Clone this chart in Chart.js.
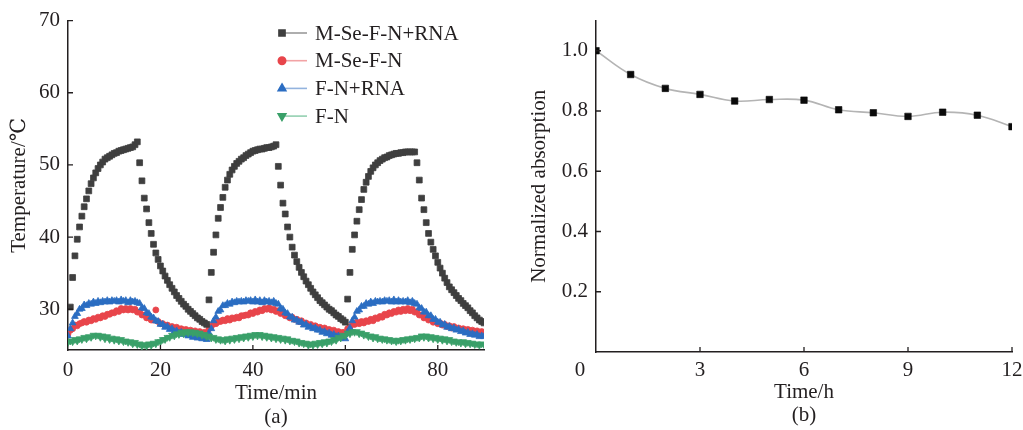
<!DOCTYPE html>
<html>
<head>
<meta charset="utf-8">
<title>Photothermal heating cycles and absorption stability</title>
<script src="https://cdn.jsdelivr.net/npm/chart.js@4.4.1/dist/chart.umd.min.js"></script>
<style>
  html, body { margin: 0; padding: 0; background: #ffffff; }
  #wrap { position: relative; width: 1023px; height: 430px; overflow: hidden; }
  #panelA { position: absolute; left: 0; top: 0; }
  #panelB { position: absolute; left: 511px; top: 0; }
</style>
</head>
<body>
<div id="wrap">
  <canvas id="panelA" width="511" height="430"></canvas>
  <canvas id="panelB" width="512" height="430"></canvas>
</div>
<script>
// ---------- (a) temperature records, sampled every 0.5 min from 0 to 90 min ----------
const SAMPLE_STEP_MIN = 0.5;

const seriesNames = ['M-Se-F-N+RNA', 'M-Se-F-N', 'F-N+RNA', 'F-N'];

// M-Se-F-N+RNA (°C)
const tempMSeFNRNA = [
  null, 30.3, 34.4, 37.4, 39.7, 41.4, 42.9, 44.2, 45.3, 46.4,
  47.4, 48.2, 48.9, 49.5, 50.0, 50.4, 50.8, 51.0, 51.2, 51.4,
  51.6, 51.7, 51.9, 52.0, 52.1, 52.2, 52.3, 52.4, 52.5, 52.8,
  53.2, 50.3, 47.8, 45.4, 43.9, 42.0, 40.5, 39.0, 37.8, 36.9,
  36.0, 35.3, 34.6, 34.0, 33.4, 32.9, 32.4, 31.9, 31.5, 31.1,
  30.7, 30.4, 30.0, 29.7, 29.4, 29.1, 28.8, 28.6, 28.3, 28.1,
  27.9, 31.3, 35.1, 37.9, 40.3, 42.6, 44.1, 45.5, 46.9, 47.9,
  48.7, 49.3, 49.8, 50.2, 50.5, 50.8, 51.0, 51.3, 51.5, 51.7,
  51.9, 52.0, 52.1, 52.2, 52.2, 52.3, 52.4, 52.4, 52.5, 52.6,
  52.8, 49.8, 47.2, 44.7, 43.2, 41.4, 40.0, 38.6, 37.5, 36.6,
  35.8, 35.1, 34.5, 33.9, 33.4, 32.9, 32.4, 32.0, 31.6, 31.2,
  30.9, 30.6, 30.3, 30.0, 29.8, 29.5, 29.2, 29.0, 28.7, 28.5,
  28.2, 31.4, 35.1, 38.3, 40.3, 42.2, 43.8, 45.2, 46.6, 47.6,
  48.4, 49.1, 49.6, 50.0, 50.3, 50.6, 50.8, 51.0, 51.1, 51.3,
  51.4, 51.5, 51.6, 51.6, 51.7, 51.7, 51.8, 51.8, 51.8, 51.8,
  51.8, 50.3, 47.9, 45.4, 43.8, 42.0, 40.5, 39.3, 38.3, 37.4,
  36.5, 35.7, 35.0, 34.3, 33.7, 33.1, 32.7, 32.3, 31.9, 31.5,
  31.2, 30.8, 30.5, 30.2, 29.8, 29.5, 29.1, 28.8, 28.5, 28.3,
  28.1
];

// M-Se-F-N (°C)
const tempMSeFN = [
  26.6, 27.1, 27.3, 27.8, 27.7, 28.0, 28.1, 28.3, 28.2, 28.5,
  28.4, 28.7, 28.6, 28.9, 28.8, 29.1, 29.0, 29.3, 29.3, 29.5,
  29.5, 29.8, 29.7, 30.1, 29.9, 30.1, 29.9, 30.1, 29.9, 30.0,
  29.6, 29.6, 29.2, 29.2, 28.8, 28.8, 28.5, 28.5, 29.9, 28.3,
  28.0, 28.0, 27.7, 27.8, 27.5, 27.6, 27.3, 27.5, 27.2, 27.3,
  27.0, 27.2, 26.9, 27.1, 26.8, 27.0, 26.7, 26.9, 26.6, 26.8,
  26.6, 27.3, 27.6, 28.0, 28.0, 28.3, 28.3, 28.5, 28.4, 28.7,
  28.5, 28.8, 28.7, 28.9, 28.8, 29.1, 29.1, 29.2, 29.2, 29.5,
  29.4, 29.7, 29.6, 29.9, 29.8, 30.1, 30.0, 30.2, 29.9, 30.0,
  29.7, 29.8, 29.4, 29.5, 29.1, 29.1, 28.8, 28.9, 28.6, 28.6,
  28.3, 28.4, 28.0, 28.1, 27.8, 27.9, 27.6, 27.7, 27.4, 27.5,
  27.2, 27.4, 27.1, 27.2, 26.9, 27.1, 26.8, 26.9, 26.7, 26.8,
  26.6, 27.3, 27.5, 28.0, 27.9, 28.2, 28.0, 28.3, 28.1, 28.4,
  28.3, 28.6, 28.4, 28.8, 28.7, 29.0, 28.9, 29.3, 29.2, 29.5,
  29.4, 29.7, 29.6, 29.9, 29.7, 30.0, 29.8, 30.1, 29.8, 30.0,
  29.6, 29.6, 29.2, 29.2, 28.8, 28.9, 28.5, 28.6, 28.2, 28.3,
  28.0, 28.1, 27.8, 27.9, 27.6, 27.7, 27.4, 27.6, 27.3, 27.4,
  27.2, 27.3, 27.1, 27.2, 27.0, 27.1, 26.9, 27.0, 26.8, 26.9,
  26.8
];

// F-N+RNA (°C)
const tempFNRNA = [
  26.3, 27.3, 28.1, 29.0, 29.4, 30.0, 30.1, 30.6, 30.5, 30.8,
  30.7, 31.0, 30.8, 31.1, 30.9, 31.1, 31.0, 31.2, 31.0, 31.2,
  31.1, 31.2, 31.0, 31.3, 31.1, 31.2, 30.9, 31.2, 31.0, 31.1,
  30.9, 30.8, 30.2, 30.1, 29.5, 29.4, 28.9, 28.8, 28.4, 28.3,
  27.9, 27.9, 27.5, 27.6, 27.2, 27.3, 26.9, 27.0, 26.7, 26.8,
  26.5, 26.6, 26.3, 26.4, 26.1, 26.2, 26.0, 26.1, 25.9, 26.0,
  25.8, 26.7, 27.3, 28.4, 28.9, 29.7, 29.9, 30.5, 30.5, 30.8,
  30.7, 31.0, 30.9, 31.1, 31.0, 31.1, 31.0, 31.2, 31.1, 31.2,
  31.0, 31.3, 31.0, 31.2, 30.9, 31.2, 31.0, 31.1, 30.9, 31.1,
  30.8, 30.7, 30.1, 30.0, 29.5, 29.4, 28.9, 28.9, 28.5, 28.5,
  28.2, 28.2, 27.8, 27.9, 27.5, 27.6, 27.3, 27.4, 27.1, 27.1,
  26.8, 26.9, 26.6, 26.7, 26.4, 26.5, 26.2, 26.3, 26.0, 26.1,
  25.9, 26.8, 27.4, 28.4, 28.9, 29.7, 29.9, 30.4, 30.4, 30.8,
  30.7, 31.0, 30.8, 31.1, 31.0, 31.1, 31.0, 31.2, 31.1, 31.2,
  31.0, 31.3, 31.0, 31.2, 31.0, 31.1, 31.0, 31.2, 30.9, 31.1,
  30.8, 30.7, 30.2, 30.1, 29.6, 29.6, 29.1, 29.1, 28.6, 28.6,
  28.2, 28.2, 27.8, 27.9, 27.5, 27.6, 27.3, 27.4, 27.1, 27.2,
  26.9, 27.0, 26.7, 26.8, 26.5, 26.6, 26.4, 26.5, 26.2, 26.3,
  26.2
];

// F-N (°C)
const tempFN = [
  25.4, 25.6, 25.5, 25.8, 25.6, 25.9, 25.8, 26.1, 25.9, 26.2,
  26.1, 26.4, 26.3, 26.4, 26.1, 26.3, 25.9, 26.2, 25.8, 26.0,
  25.7, 25.9, 25.6, 25.8, 25.5, 25.6, 25.4, 25.5, 25.2, 25.4,
  25.1, 25.2, 24.9, 25.1, 24.9, 25.2, 25.0, 25.3, 25.2, 25.5,
  25.5, 25.8, 25.8, 26.1, 26.1, 26.4, 26.3, 26.6, 26.5, 26.8,
  26.6, 26.9, 26.7, 26.9, 26.7, 26.8, 26.6, 26.7, 26.4, 26.5,
  26.2, 26.3, 26.0, 26.1, 25.8, 25.9, 25.7, 25.8, 25.6, 25.9,
  25.7, 26.0, 25.8, 26.1, 25.9, 26.2, 26.0, 26.3, 26.1, 26.4,
  26.2, 26.5, 26.3, 26.5, 26.2, 26.4, 26.1, 26.3, 26.0, 26.2,
  25.9, 26.1, 25.8, 26.0, 25.7, 25.9, 25.6, 25.7, 25.5, 25.6,
  25.3, 25.4, 25.2, 25.3, 25.0, 25.2, 25.0, 25.3, 25.1, 25.4,
  25.2, 25.5, 25.3, 25.6, 25.5, 25.8, 25.7, 26.1, 26.0, 26.4,
  26.3, 26.7, 26.6, 26.9, 26.8, 26.9, 26.6, 26.7, 26.4, 26.5,
  26.2, 26.3, 26.0, 26.2, 25.9, 26.0, 25.8, 25.9, 25.7, 25.8,
  25.6, 25.7, 25.5, 25.7, 25.6, 25.8, 25.7, 25.9, 25.8, 26.0,
  25.9, 26.1, 26.0, 26.3, 26.1, 26.3, 26.0, 26.2, 25.9, 26.1,
  25.8, 26.0, 25.7, 25.9, 25.6, 25.8, 25.5, 25.6, 25.4, 25.5,
  25.3, 25.5, 25.2, 25.4, 25.2, 25.3, 25.1, 25.2, 25.0, 25.2,
  25.1
];

const tempTickLabels = [0, 20, 40, 60, 80];

// ---------- (b) normalized absorption over 12 h ----------
const storageHours = [0, 1, 2, 3, 4, 5, 6, 7, 8, 9, 10, 11, 12];
const normalizedAbsorption = [1.0, 0.921, 0.875, 0.855, 0.833, 0.838, 0.836,
                              0.804, 0.794, 0.782, 0.796, 0.786, 0.748];

// ---------- shared styling ----------
const SERIF = "'Liberation Serif', 'Times New Roman', 'DejaVu Serif', serif";
const INK = '#231f20';
const AXIS_FONT = { family: SERIF, size: 21 };

const toPoints = (values) => values.map((v, i) => ({ x: i * SAMPLE_STEP_MIN, y: v }));

// Tick marks that point into the plot area instead of outward.
const inwardTicks = {
  id: 'inwardTicks',
  afterDraw(chart, args, opts) {
    const { ctx, chartArea } = chart;
    const xs = chart.scales.x, ys = chart.scales.y;
    ctx.save();
    ctx.strokeStyle = opts.color;
    ctx.lineWidth = opts.width;
    ctx.beginPath();
    xs.ticks.forEach(t => {
      if (t.value <= xs.min) return;
      const px = xs.getPixelForValue(t.value);
      ctx.moveTo(px, chartArea.bottom);
      ctx.lineTo(px, chartArea.bottom - opts.length);
    });
    ys.ticks.forEach(t => {
      if (t.value <= ys.min) return;
      const py = ys.getPixelForValue(t.value);
      ctx.moveTo(chartArea.left, py);
      ctx.lineTo(chartArea.left + opts.length, py);
    });
    ctx.stroke();
    ctx.restore();
  }
};

// Shared origin label set just left of the corner.
const originLabel = {
  id: 'originLabel',
  afterDraw(chart, args, opts) {
    if (!opts.display) return;
    const { ctx, chartArea } = chart;
    ctx.save();
    ctx.fillStyle = INK;
    ctx.font = `${opts.fontSize}px ${SERIF}`;
    ctx.textAlign = 'center';
    ctx.textBaseline = 'top';
    ctx.fillText(opts.text, chartArea.left + opts.dx, chartArea.bottom + opts.dy);
    ctx.restore();
  }
};

// Legend entries drawn as marker + short line + label.
const markerLegend = {
  id: 'markerLegend',
  afterDraw(chart, args, opts) {
    if (!opts.display) return;
    const ctx = chart.ctx;
    ctx.save();
    chart.data.datasets.forEach((ds, i) => {
      const y = opts.top + i * opts.rowGap;
      ctx.strokeStyle = ds.legendLineColor;
      ctx.lineWidth = 1.6;
      ctx.beginPath();
      ctx.moveTo(opts.left, y);
      ctx.lineTo(opts.left + opts.lineLength, y);
      ctx.stroke();
      ctx.fillStyle = ds.pointBackgroundColor;
      ctx.strokeStyle = ds.pointBorderColor;
      Chart.helpers.drawPoint(ctx, {
        pointStyle: ds.pointStyle,
        rotation: ds.pointRotation || 0,
        radius: ds.legendPointRadius,
        borderWidth: ds.pointBorderWidth
      }, opts.left, y);
      ctx.fillStyle = INK;
      ctx.font = `${opts.fontSize}px ${SERIF}`;
      ctx.textAlign = 'left';
      ctx.textBaseline = 'middle';
      ctx.fillText(ds.label, opts.left + opts.textOffset, y + 1);
    });
    ctx.restore();
  }
};

// Fix an axis box to a set thickness; horizontal axes also drop the
// label overhang padding so the plot spans the full requested width.
function fixedBox(size) {
  return function (scale) {
    if (scale.isHorizontal()) {
      scale.height = size;
      scale.paddingLeft = 0;
      scale.paddingRight = 0;
    } else {
      scale.width = size;
    }
  };
}

// ---------- panel (a) ----------
// drawOrder: lower numbers are painted on top
const markerStyles = [
  { color: '#3f3f3f', line: '#9a9a9a', style: 'rect', radius: 4.1, legendRadius: 4.3, rotation: 0, drawOrder: 0 },
  { color: '#e8454b', line: '#f2a3a5', style: 'circle', radius: 3.0, legendRadius: 3.7, rotation: 0, drawOrder: 3 },
  { color: '#2b6dc2', line: '#93b3de', style: 'triangle', radius: 3.9, legendRadius: 4.4, rotation: 0, drawOrder: 2 },
  { color: '#3aa069', line: '#93d0b0', style: 'triangle', radius: 3.9, legendRadius: 4.4, rotation: 180, drawOrder: 1 }
];
const tempSeries = [tempMSeFNRNA, tempMSeFN, tempFNRNA, tempFN];

new Chart(document.getElementById('panelA'), {
  type: 'scatter',
  data: {
    datasets: tempSeries.map((vals, i) => ({
      label: seriesNames[i],
      data: toPoints(vals),
      order: markerStyles[i].drawOrder,
      showLine: false,
      pointStyle: markerStyles[i].style,
      pointRotation: markerStyles[i].rotation,
      pointRadius: markerStyles[i].radius,
      pointHoverRadius: markerStyles[i].radius,
      pointBackgroundColor: markerStyles[i].color,
      pointBorderColor: markerStyles[i].color,
      pointBorderWidth: 0.8,
      legendLineColor: markerStyles[i].line,
      legendPointRadius: markerStyles[i].legendRadius
    }))
  },
  options: {
    responsive: false,
    animation: false,
    devicePixelRatio: 1,
    layout: { padding: { top: 19, right: 27, bottom: 0, left: 0 } },
    scales: {
      x: {
        type: 'linear',
        min: 0, max: 90,
        afterFit: fixedBox(80),
        grid: { display: false, drawTicks: false },
        border: { display: true, color: INK, width: 1.5 },
        ticks: {
          stepSize: 20, includeBounds: false, maxRotation: 0, padding: 8,
          color: INK, font: AXIS_FONT,
          callback: (v) => tempTickLabels.includes(v) ? String(v) : ''
        },
        title: {
          display: true, text: ['Time/min', '(a)'], color: INK,
          font: { family: SERIF, size: 21, lineHeight: 24 / 21 },
          padding: { top: 0, bottom: 1 }
        }
      },
      y: {
        type: 'linear',
        min: 24.35, max: 70,
        afterFit: fixedBox(68),
        grid: { display: false, drawTicks: false },
        border: { display: true, color: INK, width: 1.5 },
        ticks: { stepSize: 10, includeBounds: false, padding: 8, color: INK, font: AXIS_FONT },
        title: {
          display: true, text: 'Temperature/℃', color: INK,
          font: { family: SERIF, size: 21, lineHeight: 1.2 },
          padding: { top: 7, bottom: 0 }
        }
      }
    },
    plugins: {
      legend: { display: false },
      tooltip: { enabled: false },
      inwardTicks: { color: INK, width: 1.3, length: 5 },
      markerLegend: { display: true, left: 282, top: 33, rowGap: 27.7, lineLength: 25, textOffset: 33, fontSize: 21 }
    }
  },
  plugins: [inwardTicks, markerLegend]
});

// ---------- panel (b) ----------
new Chart(document.getElementById('panelB'), {
  type: 'line',
  data: {
    datasets: [{
      label: 'Normalized absorption',
      data: storageHours.map((h, i) => ({ x: h, y: normalizedAbsorption[i] })),
      borderColor: '#b4b4b4',
      borderWidth: 1.6,
      tension: 0.4,
      pointStyle: 'rect',
      pointRadius: 4.6,
      pointHoverRadius: 4.6,
      pointBackgroundColor: '#0a0a0a',
      pointBorderColor: '#0a0a0a',
      pointBorderWidth: 0.6
    }]
  },
  options: {
    responsive: false,
    animation: false,
    devicePixelRatio: 1,
    layout: { padding: { top: 20, right: 11, bottom: 0, left: 0 } },
    scales: {
      x: {
        type: 'linear',
        min: 0, max: 12,
        afterFit: fixedBox(78),
        grid: { display: false, drawTicks: false },
        border: { display: true, color: INK, width: 1.5 },
        ticks: {
          stepSize: 3, maxRotation: 0, padding: 6, color: INK, font: AXIS_FONT,
          callback: (v) => v === 0 ? '' : String(v)
        },
        title: {
          display: true, text: ['Time/h', '(b)'], color: INK,
          font: { family: SERIF, size: 21, lineHeight: 23 / 21 },
          padding: { top: 0, bottom: 3 }
        }
      },
      y: {
        type: 'linear',
        min: 0, max: 1.1,
        afterFit: fixedBox(85),
        grid: { display: false, drawTicks: false },
        border: { display: true, color: INK, width: 1.5 },
        ticks: {
          stepSize: 0.2, includeBounds: false, padding: 8, color: INK, font: AXIS_FONT,
          callback: (v) => v === 0 ? '' : v.toFixed(1)
        },
        title: {
          display: true, text: 'Normalized absorption', color: INK,
          font: { family: SERIF, size: 21, lineHeight: 1.2 },
          padding: { top: 16, bottom: 0 }
        }
      }
    },
    plugins: {
      legend: { display: false },
      tooltip: { enabled: false },
      inwardTicks: { color: INK, width: 1.3, length: 5 },
      originLabel: { display: true, text: '0', dx: -16, dy: 8, fontSize: 21 }
    }
  },
  plugins: [inwardTicks, originLabel]
});
</script>
</body>
</html>
